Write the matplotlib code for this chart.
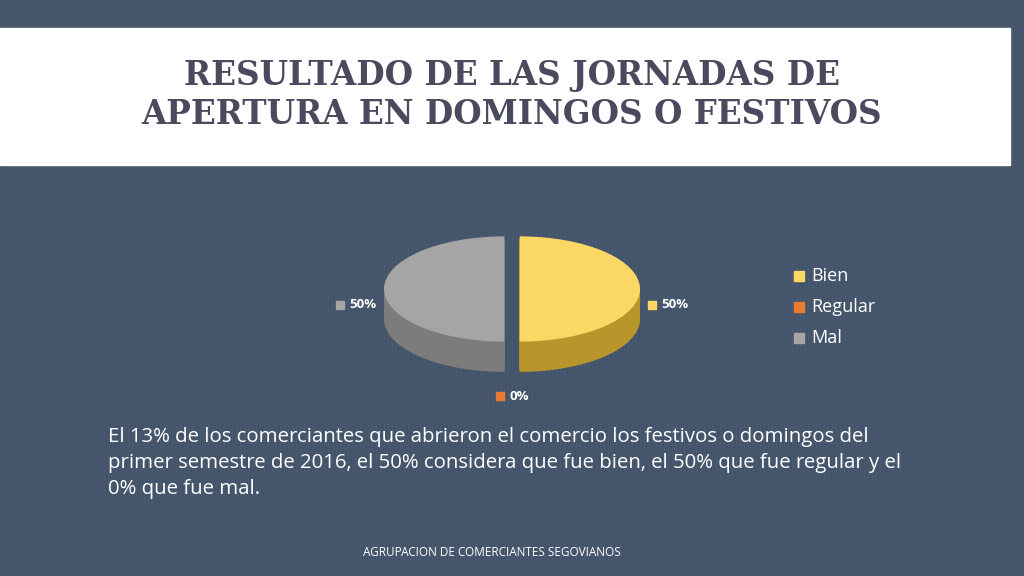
import matplotlib.pyplot as plt
from matplotlib.patches import Rectangle

# chart data
labels = ['Bien', 'Regular', 'Mal']
values = [50, 0, 50]
pct_labels = ['50%', '0%', '50%']
top_colors = ['#fbd864', '#e87d31', '#a5a5a5']
side_colors = ['#b8962c', '#a8551c', '#7c7c7c']

W, H = 1024, 576
fig = plt.figure(figsize=(W / 100, H / 100), dpi=100)
fig.patch.set_facecolor('#44546a')

bg = fig.add_axes([0, 0, 1, 1])
bg.set_xlim(0, W)
bg.set_ylim(H, 0)
bg.axis('off')
# faint stripes
for x in range(0, W, 4):
    bg.axvline(x, color='#4b5b72', lw=0.6, zorder=0)
bg.add_patch(Rectangle((0, 28), 1010, 137, color='white', zorder=1))
bg.text(512, 76, 'RESULTADO DE LAS JORNADAS DE', ha='center', va='center',
        fontsize=23.5, fontfamily='DejaVu Serif', fontweight='bold', color='#4a4a5e', zorder=2)
bg.text(512, 114, 'APERTURA EN DOMINGOS O FESTIVOS', ha='center', va='center',
        fontsize=23.5, fontfamily='DejaVu Serif', fontweight='bold', color='#4a4a5e', zorder=2)

body = ['El 13% de los comerciantes que abrieron el comercio los festivos o domingos del',
        'primer semestre de 2016, el 50% considera que fue bien, el 50% que fue regular y el',
        '0% que fue mal.']
for i, line in enumerate(body):
    bg.text(108, 437 + i * 26, line, ha='left', va='center', fontsize=14.7,
            fontfamily='Open Sans', color='white', zorder=2)
bg.text(492, 552, 'AGRUPACION DE COMERCIANTES SEGOVIANOS', ha='center', va='center',
        fontsize=8.5, fontfamily='Open Sans', color='white', zorder=2)

# pseudo 3D pie
ax = fig.add_axes([360 / W, 1 - 390 / H, 304 / W, 170 / H])
ax.set_facecolor('none')
depth = 0.54
steps = 30
r = 0.94
exp = [0.06, 0.06, 0.06]
for k in range(steps, 0, -1):
    dy = -depth * k / steps
    ax.pie(values, colors=side_colors, startangle=90, counterclock=False,
           explode=exp, center=(0, dy), radius=r,
           wedgeprops=dict(linewidth=0))
ax.pie(values, colors=top_colors, startangle=90, counterclock=False,
       explode=exp, center=(0, 0), radius=r,
       wedgeprops=dict(linewidth=0))
ax.set_aspect('auto')
ax.set_xlim(-1.1875, 1.1875)
ax.set_ylim(-1.804, 1.232)
ax.axis('off')

# data labels (positions in pixels on the slide)
label_pos = [(652, 305), (500, 396), (340, 305)]
for (x, y), txt, c in zip(label_pos, pct_labels, top_colors):
    bg.add_patch(Rectangle((x - 4, y - 4), 8, 8, color=c, zorder=3))
    bg.text(x + 9, y, txt, ha='left', va='center', fontsize=9.5, fontweight='bold',
            fontfamily='Open Sans', color='white', zorder=3)

# legend
for i, (lab, c) in enumerate(zip(labels, top_colors)):
    y = 276 + i * 31
    bg.add_patch(Rectangle((794, y - 5), 10, 10, color=c, zorder=3))
    bg.text(811, y, lab, ha='left', va='center', fontsize=13,
            fontfamily='Open Sans', color='white', zorder=3)

fig.savefig('out.png', dpi=100, facecolor=fig.get_facecolor())
